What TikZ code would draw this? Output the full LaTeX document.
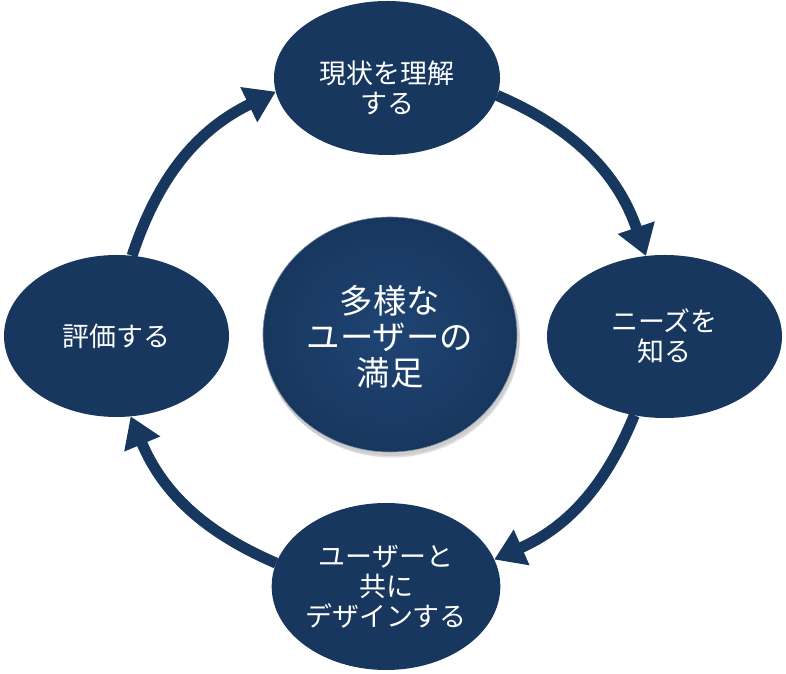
\documentclass[tikz,border=0pt]{standalone}
\usepackage{fontspec}
\newfontfamily\jpfont{Noto Sans CJK JP}
\usetikzlibrary{shapes.geometric,arrows.meta}
\definecolor{navy}{HTML}{17375E}
\definecolor{navyin}{HTML}{1F4574}
\tikzset{
  bub/.style={ellipse, fill=navy, inner sep=0pt, outer sep=0pt},
  lbl/.style={text=white, font=\jpfont\fontsize{23}{25.5}\selectfont, align=center, inner sep=0pt},
  clbl/.style={text=white, font=\jpfont\fontsize{28.5}{30.5}\selectfont, align=center, inner sep=0pt},
  flow/.style={draw=navy, line width=0.33cm, -{Triangle[width=1.11cm,length=0.9cm]}}
}
\begin{document}
\begin{tikzpicture}[x=0.03cm,y=0.03cm]
\useasboundingbox (0,0) rectangle (786,673);
% center circle with soft shadow
\fill[black, opacity=0.12] (392,334.5) ellipse [x radius=128, y radius=119];
\fill[black, opacity=0.08] (391,336.5) ellipse [x radius=128.5, y radius=119.5];
\node[ellipse, minimum width=7.62cm, minimum height=7.05cm, inner color=navyin, outer color=navy,
      draw=white!45!navy, line width=0.5pt, inner sep=0pt, outer sep=0pt] (center) at (390,338.5) {};
\node[clbl] (centertext) at (390,336) {多様な\\ユーザーの\\満足};
% outer ellipses
\node[bub, minimum width=6.78cm, minimum height=4.62cm] (top) at (387,595) {};
\node[lbl] (toptext) at (387,585) {現状を理解\\する};
\node[bub, lbl, minimum width=7.05cm, minimum height=4.89cm] (right) at (664.5,336.5) {ニーズを\\知る};
\node[bub, lbl, minimum width=6.84cm, minimum height=5.01cm] (bottom) at (386,86.5) {ユーザーと\\共に\\デザインする};
\node[bub, lbl, minimum width=6.75cm, minimum height=4.86cm] (left) at (116.5,337) {評価する};
% cycle arrows
\draw[flow] (top.-9) to[bend left=24] (right.103);
\draw[flow] (right.-111) to[bend left=22] (bottom.14);
\draw[flow] (bottom.168) to[bend left=22] (left.-80);
\draw[flow] (left.79) to[bend left=23] (top.187);
\end{tikzpicture}
\end{document}
